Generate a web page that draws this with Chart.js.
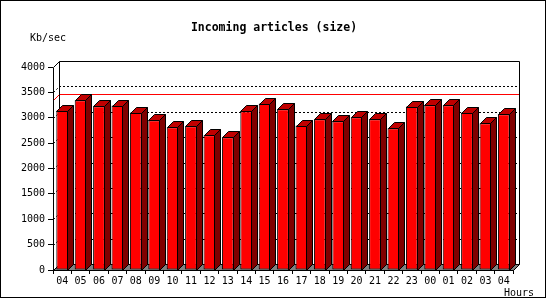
<!DOCTYPE html>
<html>
<head>
<meta charset="utf-8">
<script src="https://cdn.jsdelivr.net/npm/chart.js@4/dist/chart.umd.min.js"></script>
<style>
  body { margin: 0; background: #fff; }
  canvas { display: block; }
</style>
</head>
<body>
<canvas id="graph" width="550" height="300"></canvas>
<script>
const hours = ['04','05','06','07','08','09','10','11','12','13','14','15','16',
               '17','18','19','20','21','22','23','00','01','02','03','04'];
const kbPerSec = [3142,3345,3227,3240,3102,2951,2813,2833,2656,2617,3128,3279,3167,
                  2846,2971,2931,3010,2971,2794,3220,3246,3246,3102,2892,3069];
const yTicks = [0,500,1000,1500,2000,2500,3000,3500,4000];

const DX = 6, DY = 6; // 3d depth

const threeD = {
  id: 'threeD',
  beforeDatasetsDraw(chart) {
    const { ctx, chartArea: a, scales: { y } } = chart;
    const L = Math.round(a.left) + 0.5, R = Math.round(a.right) + 0.5;
    const T = Math.round(a.top) + 0.5, B = Math.round(a.bottom) + 0.5;
    ctx.save();
    ctx.lineWidth = 1;

    // floor
    ctx.fillStyle = '#808080';
    ctx.beginPath();
    ctx.moveTo(L, B); ctx.lineTo(L + DX, B - DY); ctx.lineTo(R + DX, B - DY); ctx.lineTo(R, B);
    ctx.closePath();
    ctx.fill();

    // dotted grid on back wall + left wall
    ctx.strokeStyle = '#000';
    ctx.setLineDash([2, 2]);
    yTicks.forEach(v => {
      if (v === 0 || v === 4000) return;
      const py = Math.round(y.getPixelForValue(v)) + 0.5;
      ctx.beginPath();
      ctx.moveTo(L, py); ctx.lineTo(L + DX, py - DY); ctx.lineTo(R + DX, py - DY);
      ctx.stroke();
    });
    ctx.setLineDash([]);

    // max line
    const maxY = Math.round(y.getPixelForValue(Math.max(...kbPerSec))) + 0.5;
    ctx.strokeStyle = '#ff0000';
    ctx.beginPath();
    ctx.moveTo(L, maxY); ctx.lineTo(L + DX, maxY - DY); ctx.lineTo(R + DX, maxY - DY);
    ctx.stroke();

    // back box edges
    ctx.strokeStyle = '#000';
    ctx.beginPath();
    ctx.moveTo(L, T); ctx.lineTo(L + DX, T - DY); ctx.lineTo(R + DX, T - DY);
    ctx.lineTo(R + DX, B - DY); ctx.lineTo(R, B);
    ctx.moveTo(L + DX, T - DY); ctx.lineTo(L + DX, B - DY); ctx.lineTo(L, B);
    ctx.moveTo(L + DX, B - DY); ctx.lineTo(R + DX, B - DY);
    ctx.stroke();
    ctx.restore();
  },
  afterDatasetsDraw(chart) {
    const { ctx, chartArea: a } = chart;
    ctx.save();
    ctx.lineWidth = 1;
    ctx.strokeStyle = '#000';
    chart.getDatasetMeta(0).data.forEach(bar => {
      const p = bar.getProps(['x', 'y', 'base', 'width'], true);
      const l = Math.round(p.x - p.width / 2) + 0.5;
      const r = Math.round(p.x + p.width / 2) - 0.5;
      const t = Math.round(p.y) + 0.5;
      const b = Math.round(p.base) + 0.5;
      // side
      ctx.fillStyle = '#800000';
      ctx.beginPath();
      ctx.moveTo(r, t); ctx.lineTo(r + DX, t - DY); ctx.lineTo(r + DX, b - DY); ctx.lineTo(r, b);
      ctx.closePath();
      ctx.fill(); ctx.stroke();
      // top
      ctx.fillStyle = '#c00000';
      ctx.beginPath();
      ctx.moveTo(l, t); ctx.lineTo(l + DX, t - DY); ctx.lineTo(r + DX, t - DY); ctx.lineTo(r, t);
      ctx.closePath();
      ctx.fill(); ctx.stroke();
    });
    // front axis lines
    const L = Math.round(a.left) + 0.5, B = Math.round(a.bottom) + 0.5;
    ctx.beginPath();
    ctx.moveTo(L, Math.round(a.top) + 0.5); ctx.lineTo(L, B); ctx.lineTo(Math.round(a.right) + 0.5, B);
    ctx.stroke();
    ctx.restore();
  },
  afterDraw(chart) {
    const ctx = chart.ctx;
    ctx.save();
    ctx.fillStyle = '#000';
    ctx.textBaseline = 'alphabetic';
    ctx.font = 'bold 11.5px "DejaVu Sans Mono"';
    ctx.textAlign = 'center';
    ctx.fillText('Incoming articles (size)', 274, 31);
    ctx.font = '10px "DejaVu Sans Mono"';
    ctx.textAlign = 'left';
    ctx.fillText('Kb/sec', 30, 40.5);
    ctx.fillText('Hours', 504, 296);
    ctx.strokeStyle = '#000';
    ctx.lineWidth = 1;
    ctx.strokeRect(0.5, 0.5, 545, 297);
    ctx.restore();
  }
};

Chart.defaults.color = '#000';
Chart.defaults.font.family = '"DejaVu Sans Mono"';
Chart.defaults.font.size = 10;

window.onload = () => {
  const ctx = document.getElementById('graph').getContext('2d');
  new Chart(ctx, {
    type: 'bar',
    data: {
      labels: hours,
      datasets: [{
        label: 'Kb/sec',
        data: kbPerSec,
        backgroundColor: '#ff0000',
        borderColor: '#000',
        borderWidth: 1,
        borderSkipped: false,
        barPercentage: 0.64,
        categoryPercentage: 1
      }]
    },
    options: {
      responsive: false,
      animation: false,
      devicePixelRatio: 1,
      layout: { padding: { top: 67, right: 37, left: 0, bottom: 0 } },
      plugins: { legend: { display: false }, tooltip: { enabled: false } },
      scales: {
        x: {
          afterFit: s => { s.height = 30; },
          grid: { drawOnChartArea: false, tickLength: 4, color: '#000' },
          border: { display: false },
          ticks: { padding: 1, maxRotation: 0, autoSkip: false }
        },
        y: {
          min: 0, max: 4000,
          afterFit: s => { s.width = 53; },
          afterBuildTicks: s => { s.ticks = yTicks.map(v => ({ value: v })); },
          grid: { drawOnChartArea: false, tickLength: 5, color: '#000' },
          border: { display: false },
          ticks: { padding: 3, callback: v => String(v) }
        }
      }
    },
    plugins: [threeD]
  });
};
</script>
</body>
</html>
